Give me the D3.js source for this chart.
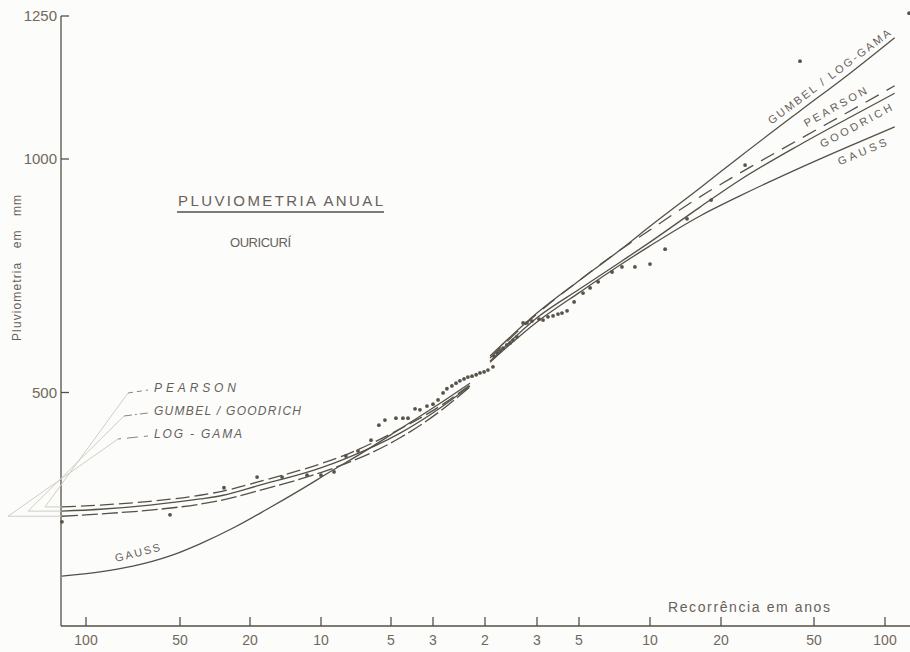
<!DOCTYPE html>
<html>
<head>
<meta charset="utf-8">
<title>Pluviometria anual - Ouricurí</title>
<script src="https://d3js.org/d3.v7.min.js"></script>
<style>
  body { margin: 0; background: #fcfcfa; }
  svg { display: block; font-family: "Liberation Sans", "DejaVu Sans", sans-serif; }
  .tick-label { fill: #6f695d; font-size: 14px; }
  .ink { stroke: #555047; fill: none; stroke-width: 1.3; }
  .lettering { fill: #67615a; }
</style>
</head>
<body>
<script>
// recorrência em anos: lado seco (esquerda), mediana, lado úmido (direita)
const xTicksDry = [100, 50, 20, 10, 5, 3];
const xTicksWet = [3, 5, 10, 20, 50, 100];
const yTicks = [500, 1000, 1250];

// observações anuais: u = ±log10(T/2), pluviometria em mm
const obsU = [-1.776, -1.430, -1.148, -0.970, -0.864, -0.758, -0.699, -0.643, -0.592, -0.540,
  -0.484, -0.450, -0.424, -0.372, -0.335, -0.308, -0.271, -0.245, -0.208, -0.176,
  -0.159, -0.142, -0.129, -0.112, -0.098, -0.085, -0.071, -0.058, -0.044, -0.030,
  -0.017, -0.003, 0.010, 0.027, 0.030, 0.041, 0.051, 0.061, 0.074, 0.085,
  0.095, 0.108, 0.129, 0.142, 0.159, 0.187, 0.208, 0.234, 0.261, 0.287,
  0.308, 0.335, 0.372, 0.415, 0.445, 0.479, 0.538, 0.580, 0.635, 0.699,
  0.763, 0.856, 0.958, 1.103, 1.338, 1.801];
const obsMM = [223, 238, 296, 319, 319, 323, 323, 330, 364, 375,
  398, 430, 441, 445, 445, 445, 465, 463, 471, 475,
  484, 499, 508, 514, 520, 525, 529, 533, 535, 538,
  542, 544, 548, 555, 578, 585, 589, 595, 602, 606,
  612, 619, 649, 649, 653, 657, 655, 662, 664, 668,
  670, 675, 694, 713, 724, 737, 758, 769, 769, 775,
  807, 872, 912, 987, 1171, 1255];

// curvas ajustadas - lado seco
const dryU = [-1.776, -1.654, -1.494, -1.284, -1.153, -0.970, -0.703, -0.596, -0.350, -0.152, -0.051];
const pearsonDry = [255, 259, 267, 280, 289, 308, 347, 366, 422, 471, 516];
const gumbelGoodrichDry = [246, 250, 259, 272, 280, 300, 338, 358, 413, 467, 514];
const logGamaDry = [235, 240, 248, 261, 270, 289, 328, 347, 403, 460, 512];
const gaussDryU = [-1.776, -1.654, -1.549, -1.430, -1.284, -1.085, -0.928, -0.788, -0.647, -0.531, -0.350, -0.152, -0.051];
const gaussDry = [107, 116, 128, 150, 176, 212, 250, 291, 334, 368, 422, 477, 520];

// curvas ajustadas - lado úmido
const wetU = [0.017, 0.176, 0.402, 0.572, 0.699, 0.911, 1.081, 1.338, 1.551, 1.740];
const gumbelLogGamaWet = [578, 670, 741, 805, 856, 938, 1004, 1084, 1150, 1212];
const pearsonWet = [574, 668, 741, 805, 848, 919, 970, 1035, 1084, 1128];
const goodrichWet = [567, 660, 722, 779, 822, 897, 955, 1025, 1073, 1115];
const gaussWet = [565, 651, 715, 773, 814, 878, 921, 981, 1023, 1056];

const width = 910;
const height = 652;

const svg = d3.select("body")
  .append("svg")
  .attr("width", width)
  .attr("height", height);

// papel de probabilidade desenhado à mão: escala por trechos entre as marcas
const tu = T => Math.log10(T / 2);
const xScale = d3.scaleLinear()
  .domain([...xTicksDry.map(t => -tu(t)), 0, ...xTicksWet.map(tu)])
  .range([86, 180, 250, 321, 391, 433, 485, 537, 579, 650, 721, 814, 885]);

const yScale = d3.scaleLinear()
  .domain([0, 1000, 1250])
  .range([626, 159, 16]);

const x0 = 61, yBase = yScale(0);

// eixos
svg.append("line").attr("class", "ink")
  .attr("x1", x0).attr("x2", x0)
  .attr("y1", yScale(1250)).attr("y2", yBase);
svg.append("line").attr("class", "ink")
  .attr("x1", x0).attr("x2", width)
  .attr("y1", yBase).attr("y2", yBase);

svg.selectAll(".ytick")
  .data(yTicks)
  .enter()
  .append("line")
  .attr("class", "ink ytick")
  .attr("x1", x0).attr("x2", x0 + 8)
  .attr("y1", d => yScale(d)).attr("y2", d => yScale(d));

svg.selectAll(".ylabel")
  .data(yTicks)
  .enter()
  .append("text")
  .attr("class", "tick-label")
  .attr("x", x0 - 4)
  .attr("y", d => yScale(d) + 5)
  .attr("text-anchor", "end")
  .style("font-size", "15px")
  .text(d => d);

const xTicks = [...xTicksDry.map(t => ({ u: -tu(t), label: t })), { u: 0, label: 2 },
  ...xTicksWet.map(t => ({ u: tu(t), label: t }))];

svg.selectAll(".xtick")
  .data(xTicks)
  .enter()
  .append("line")
  .attr("class", "ink xtick")
  .attr("x1", d => xScale(d.u)).attr("x2", d => xScale(d.u))
  .attr("y1", yBase).attr("y2", yBase - 9);

svg.selectAll(".xlabel")
  .data(xTicks)
  .enter()
  .append("text")
  .attr("class", "tick-label")
  .attr("x", d => xScale(d.u))
  .attr("y", yBase + 19)
  .attr("text-anchor", "middle")
  .text(d => d.label);

// títulos
svg.append("text").attr("class", "lettering")
  .attr("x", 178).attr("y", 206)
  .attr("textLength", 205).attr("lengthAdjust", "spacing")
  .style("font-size", "15px")
  .text("PLUVIOMETRIA ANUAL");
svg.append("line").attr("class", "ink")
  .attr("x1", 177).attr("x2", 384)
  .attr("y1", 212).attr("y2", 212)
  .attr("stroke-width", 1.5);
svg.append("text").attr("class", "lettering")
  .attr("x", 230).attr("y", 247)
  .attr("textLength", 61).attr("lengthAdjust", "spacing")
  .style("font-size", "13px")
  .text("OURICURÍ");

svg.append("text").attr("class", "lettering")
  .attr("transform", "translate(21,268) rotate(-90)")
  .attr("text-anchor", "middle")
  .attr("textLength", 146).attr("lengthAdjust", "spacing")
  .style("font-size", "12px")
  .style("white-space", "pre")
  .text("Pluviometria   em   mm");

svg.append("text").attr("class", "lettering")
  .attr("x", 668).attr("y", 612)
  .attr("textLength", 162).attr("lengthAdjust", "spacing")
  .style("font-size", "14px")
  .text("Recorrência em anos");

// curvas
const line = d3.line()
  .x(d => xScale(d[0]))
  .y(d => yScale(d[1]))
  .curve(d3.curveMonotoneX);

const curves = [
  { u: dryU, v: pearsonDry, dash: "14,5" },
  { u: dryU, v: gumbelGoodrichDry, dash: null },
  { u: dryU, v: logGamaDry, dash: "16,4" },
  { u: gaussDryU, v: gaussDry, dash: null },
  { u: wetU, v: gumbelLogGamaWet, dash: null },
  { u: wetU, v: pearsonWet, dash: "15,9" },
  { u: wetU, v: goodrichWet, dash: null },
  { u: wetU, v: gaussWet, dash: null }
];

svg.selectAll(".curve")
  .data(curves)
  .enter()
  .append("path")
  .attr("class", "ink curve")
  .attr("stroke-dasharray", d => d.dash)
  .attr("d", d => line(d3.zip(d.u, d.v)));

// pontos observados
svg.selectAll(".obs")
  .data(d3.zip(obsU, obsMM))
  .enter()
  .append("circle")
  .attr("class", "obs")
  .attr("cx", d => xScale(d[0]))
  .attr("cy", d => yScale(d[1]))
  .attr("r", 1.9)
  .attr("fill", "#58534a");

// rótulos ao longo das curvas
function labelAlong(us, vs, u, text, dy, len) {
  const f = d3.scaleLinear().domain(us).range(vs);
  const px = xScale(u), py = yScale(f(u));
  const ang = Math.atan2(yScale(f(u + 0.05)) - yScale(f(u - 0.05)),
    xScale(u + 0.05) - xScale(u - 0.05)) * 180 / Math.PI;
  svg.append("text").attr("class", "lettering")
    .attr("transform", `translate(${px},${py}) rotate(${ang})`)
    .attr("y", dy)
    .attr("text-anchor", "middle")
    .attr("textLength", len).attr("lengthAdjust", "spacing")
    .style("font-size", "11px")
    .text(text);
}
labelAlong(wetU, gumbelLogGamaWet, 1.487, "GUMBEL / LOG-GAMA", -6, 150);
labelAlong(wetU, pearsonWet, 1.51, "PEARSON", -7, 70);
labelAlong(wetU, goodrichWet, 1.555, "GOODRICH", 14, 80);
labelAlong(wetU, gaussWet, 1.585, "GAUSS", 14, 52);
labelAlong(gaussDryU, gaussDry, -1.525, "GAUSS", -8, 46);

// legenda à esquerda com linhas de chamada
const legend = [
  { name: "PEARSON", v: pearsonDry[0], dash: "5,4", len: 82, knee: [128, 45] },
  { name: "GUMBEL / GOODRICH", v: gumbelGoodrichDry[0], dash: "8,3,2,3", len: 147, knee: [124, 28] },
  { name: "LOG - GAMA", v: logGamaDry[0], dash: "3,6,8,0", len: 88, knee: [118, 8] }
];

legend.forEach((d, i) => {
  const ty = 392 + i * 23;
  svg.append("path")
    .attr("d", `M${d.knee[0]},${ty + 1}L${d.knee[1]},${yScale(d.v)}L${x0},${yScale(d.v)}`)
    .attr("fill", "none")
    .attr("stroke", "#cfcdc4")
    .attr("stroke-width", 1);
  svg.append("line")
    .attr("x1", d.knee[0]).attr("x2", 148)
    .attr("y1", ty + 1).attr("y2", ty - 2)
    .attr("stroke", "#8a857a")
    .attr("stroke-dasharray", d.dash)
    .attr("stroke-width", 1);
  svg.append("text").attr("class", "lettering")
    .attr("x", 154).attr("y", ty)
    .attr("textLength", d.len).attr("lengthAdjust", "spacing")
    .style("font-size", "12px")
    .style("font-style", "italic")
    .text(d.name);
});
</script>
</body>
</html>
